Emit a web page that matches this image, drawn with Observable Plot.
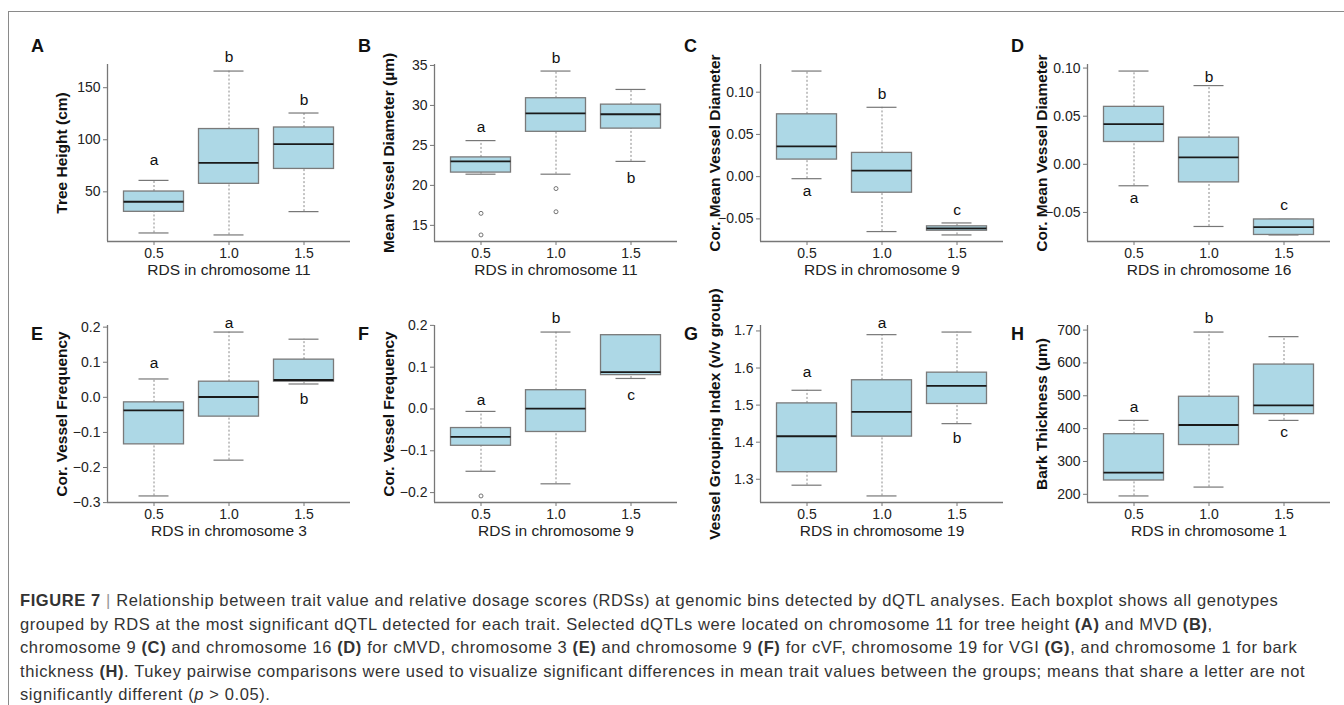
<!DOCTYPE html>
<html><head><meta charset="utf-8">
<script src="https://cdn.jsdelivr.net/npm/d3@7"></script>
<script src="https://cdn.jsdelivr.net/npm/@observablehq/plot@0.6"></script>
<style>
body{margin:0;background:#fff;font-family:"Liberation Sans",Arial,sans-serif;}
#fig{position:relative;width:1344px;height:705px;overflow:hidden;background:#fff;}
.border{position:absolute;left:8px;top:11px;width:1400px;height:720px;border-top:1.5px solid #8a8a8a;border-left:1.5px solid #8a8a8a;}
.panel{position:absolute;}
.panel svg{overflow:visible;}
.plabel{position:absolute;font-weight:bold;font-size:18px;color:#111;line-height:18px;}
.caption{position:absolute;left:20px;top:589px;font-size:16.5px;letter-spacing:0.6px;line-height:23.5px;color:#333;white-space:nowrap;}
.caption .bar{color:#999;}
</style></head><body><div id="fig"><div class="border"></div></div><script>
// ---- data ----
const rds = [0.5, 1.0, 1.5];
const panelIds = ["A","B","C","D","E","F","G","H"];
const yLabels = ["Tree Height (cm)","Mean Vessel Diameter (\u00b5m)","Cor. Mean Vessel Diameter","Cor. Mean Vessel Diameter",
  "Cor. Vessel Frequency","Cor. Vessel Frequency","Vessel Grouping Index (v/v group)","Bark Thickness (\u00b5m)"];
const xLabels = ["RDS in chromosome 11","RDS in chromosome 11","RDS in chromosome 9","RDS in chromosome 16",
  "RDS in chromosome 3","RDS in chromosome 9","RDS in chromosome 19","RDS in chromosome 1"];
const whiskerLow = [[10.5,8.6,31],[21.4,21.4,23.0],[-0.0024,-0.065,-0.069],[-0.0223,-0.0646,-0.0734],
  [-0.281,-0.179,0.038],[-0.149,-0.179,0.073],[1.284,1.255,1.450],[195,222,425]];
const q1s = [[30.8,57.7,72],[21.6,26.7,27.1],[0.0202,-0.019,-0.064],[0.0232,-0.0188,-0.0734],
  [-0.134,-0.055,0.0446],[-0.088,-0.055,0.081],[1.319,1.415,1.503],[242,350,444]];
const medians = [[40.5,77.9,95.8],[23.0,29.0,28.9],[0.0358,0.0071,-0.0612],[0.0417,0.0073,-0.0653],
  [-0.037,0.001,0.0494],[-0.0665,0.0007,0.088],[1.416,1.482,1.552],[266,411,471]];
const q3s = [[50.3,110.3,111.8],[23.5,30.9,30.1],[0.0738,0.0281,-0.0588],[0.0597,0.0277,-0.0573],
  [-0.0143,0.0446,0.1074],[-0.0456,0.0449,0.1765],[1.5046,1.567,1.5875],[383,497,595]];
const whiskerHigh = [[61,166,125.7],[25.6,34.3,32.0],[0.125,0.0821,-0.0548],[0.0969,0.0818,-0.0573],
  [0.0523,0.186,0.1657],[-0.0058,0.184,0.1768],[1.540,1.690,1.697],[425,694,680]];
const outliers = [[],[[0.5,16.5],[0.5,13.8],[1.0,19.6],[1.0,16.7]],[],[],[],[[0.5,-0.208]],[],[]];
const letters = [["a","b","b"],["a","b","b"],["a","b","c"],["a","b","c"],["a","a","b"],["a","b","c"],["a","a","b"],["a","b","c"]];
const letterY = [[81,179,138],[27.3,35.9,20.9],[-0.0175,0.0976,-0.040],[-0.0348,0.0912,-0.042],
  [0.097,0.211,-0.006],[0.0223,0.218,0.0327],[1.589,1.72,1.412],[466,738,389]];
const yTicks = [[50,100,150],[15,20,25,30,35],[-0.05,0,0.05,0.10],[-0.05,0,0.05,0.10],
  [-0.3,-0.2,-0.1,0,0.1,0.2],[-0.2,-0.1,0,0.1,0.2],[1.3,1.4,1.5,1.6,1.7],[200,300,400,500,600,700]];
const yFormats = ["d","d",".2f",".2f",".1f",".1f",".1f","d"];

// ---- layout ----
const BOX = 0.2, CAP = 0.1;
const xDomain = [0.5 - 0.62*0.5, 1.5 + 0.62*0.5];
const ML = 75, MR = 8, MT = 30, MB = 45, PW = 243, PH = 177;
const colAxis = [107, 434, 760, 1087];
const rowTop = [64, 325];
const fig = document.getElementById("fig");

panelIds.forEach((id, i) => {
  const col = i % 4, row = Math.floor(i / 4);
  const st = rds.map((r, j) => ({rds: r, lo: whiskerLow[i][j], q1: q1s[i][j], med: medians[i][j],
    q3: q3s[i][j], hi: whiskerHigh[i][j], letter: letters[i][j], ly: letterY[i][j]}));
  const outs = outliers[i].map(([r, v]) => ({rds: r, v}));
  const vals = [...whiskerLow[i], ...whiskerHigh[i], ...outs.map(d => d.v)];
  const mn = d3.min(vals), mx = d3.max(vals), pad = (mx - mn) * 0.04;
  const yd = [mn - pad, mx + pad];
  const chart = Plot.plot({
    width: ML + PW + MR, height: MT + PH + MB,
    marginLeft: ML, marginRight: MR, marginTop: MT, marginBottom: MB,
    x: {domain: xDomain, axis: null},
    y: {domain: yd, axis: null},
    style: {fontFamily: "Liberation Sans, Arial, sans-serif", fontSize: "13px", color: "#222", background: "transparent", overflow: "visible"},
    marks: [
      Plot.ruleX(st, {x: "rds", y1: "q3", y2: "hi", stroke: "#8a8a8a", strokeDasharray: "2,2", strokeWidth: 1}),
      Plot.ruleX(st, {x: "rds", y1: "lo", y2: "q1", stroke: "#8a8a8a", strokeDasharray: "2,2", strokeWidth: 1}),
      Plot.ruleY(st, {y: "hi", x1: d => d.rds - CAP, x2: d => d.rds + CAP, stroke: "#777", strokeWidth: 1.2}),
      Plot.ruleY(st, {y: "lo", x1: d => d.rds - CAP, x2: d => d.rds + CAP, stroke: "#777", strokeWidth: 1.2}),
      Plot.rect(st, {x1: d => d.rds - BOX, x2: d => d.rds + BOX, y1: "q1", y2: "q3", fill: "#ADD8E6", stroke: "#7a7a7a", strokeWidth: 1.3}),
      Plot.ruleY(st, {y: "med", x1: d => d.rds - BOX, x2: d => d.rds + BOX, stroke: "#1a1a1a", strokeWidth: 1.8}),
      Plot.dot(outs, {x: "rds", y: "v", r: 2, stroke: "#666", fill: "none", strokeWidth: 0.9}),
      Plot.text(st, {x: "rds", y: "ly", text: "letter", fontSize: 15.5, fill: "#111"}),
      Plot.ruleX([xDomain[0]], {stroke: "#777", strokeWidth: 1.3}),
      Plot.ruleY([yd[0]], {stroke: "#777", strokeWidth: 1.3}),
      Plot.axisX({ticks: rds, tickFormat: d3.format(".1f"), tickSize: 4, tickPadding: 3, label: null, fontSize: 14, stroke: "#777"}),
      Plot.axisY({ticks: yTicks[i], tickFormat: d3.format(yFormats[i]), tickSize: 4, tickPadding: 3, label: null, fontSize: 14, stroke: "#777"}),
      Plot.text([yLabels[i]], {text: d => d, frameAnchor: "left", rotate: -90, dx: -45, textAnchor: "middle", lineAnchor: "middle", fontWeight: "bold", fontSize: 15.5, fill: "#111"}),
      Plot.text([xLabels[i]], {text: d => d, frameAnchor: "bottom", dy: 29, textAnchor: "middle", lineAnchor: "middle", fontSize: 15.5, fill: "#222"})
    ]
  });
  const wrap = document.createElement("div");
  wrap.className = "panel";
  wrap.style.left = (colAxis[col] - ML) + "px";
  wrap.style.top = (rowTop[row] - MT) + "px";
  wrap.appendChild(chart);
  fig.appendChild(wrap);
  const lab = document.createElement("div");
  lab.className = "plabel";
  lab.textContent = id;
  lab.style.left = (colAxis[col] - 76) + "px";
  lab.style.top = (row === 0 ? 37 : 325) + "px";
  fig.appendChild(lab);
});

const cap = document.createElement("div");
cap.className = "caption";
cap.innerHTML = '<b>FIGURE 7</b> <span class="bar">|</span> Relationship between trait value and relative dosage scores (RDSs) at genomic bins detected by dQTL analyses. Each boxplot shows all genotypes<br>' +
  'grouped by RDS at the most significant dQTL detected for each trait. Selected dQTLs were located on chromosome 11 for tree height <b>(A)</b> and MVD <b>(B)</b>,<br>' +
  'chromosome 9 <b>(C)</b> and chromosome 16 <b>(D)</b> for cMVD, chromosome 3 <b>(E)</b> and chromosome 9 <b>(F)</b> for cVF, chromosome 19 for VGI <b>(G)</b>, and chromosome 1 for bark<br>' +
  'thickness <b>(H)</b>. Tukey pairwise comparisons were used to visualize significant differences in mean trait values between the groups; means that share a letter are not<br>' +
  'significantly different (<i>p</i> &gt; 0.05).';
fig.appendChild(cap);
</script></body></html>
